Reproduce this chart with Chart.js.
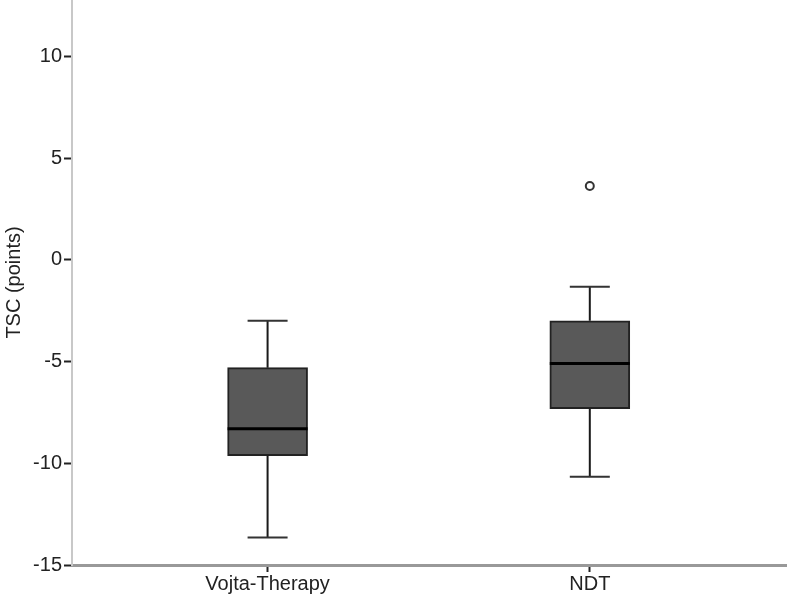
<!DOCTYPE html>
<html>
<head>
<meta charset="utf-8">
<script src="https://cdn.jsdelivr.net/npm/chart.js@4.4.1/dist/chart.umd.min.js"></script>
<style>
  body { margin: 0; background: #fff; }
  canvas { display: block; }
</style>
</head>
<body>
<canvas id="boxChart" width="787" height="600"></canvas>
<script>
// datos (TSC en puntos)
const categories = ['Vojta-Therapy', 'NDT'];
const whiskerLow = [-13.65, -10.66];
const q1 = [-9.63, -7.32];
const median = [-8.3, -5.1];
const q3 = [-5.3, -3.0];
const whiskerHigh = [-3.0, -1.33];
const outliers = [[], [3.63]];
const yTicks = [-15, -10, -5, 0, 5, 10];

// bigotes, topes y medianas usando las escalas del grafico
const boxExtras = {
  id: 'boxExtras',
  afterDatasetsDraw(chart) {
    const ctx = chart.ctx;
    const x = chart.scales.x;
    const y = chart.scales.y;
    const boxes = chart.getDatasetMeta(0).data;
    ctx.save();
    ctx.lineCap = 'butt';
    categories.forEach(function (c, i) {
      const cx = x.getPixelForValue(i + 1);
      const half = boxes[i].width / 2;
      const capHalf = half / 2;
      // bigotes
      ctx.strokeStyle = '#1a1a1a';
      ctx.lineWidth = 2;
      ctx.beginPath();
      ctx.moveTo(cx, y.getPixelForValue(q3[i]));
      ctx.lineTo(cx, y.getPixelForValue(whiskerHigh[i]));
      ctx.moveTo(cx, y.getPixelForValue(q1[i]));
      ctx.lineTo(cx, y.getPixelForValue(whiskerLow[i]));
      ctx.stroke();
      // topes
      ctx.strokeStyle = '#333';
      ctx.beginPath();
      ctx.moveTo(cx - capHalf, y.getPixelForValue(whiskerHigh[i]));
      ctx.lineTo(cx + capHalf, y.getPixelForValue(whiskerHigh[i]));
      ctx.moveTo(cx - capHalf, y.getPixelForValue(whiskerLow[i]));
      ctx.lineTo(cx + capHalf, y.getPixelForValue(whiskerLow[i]));
      ctx.stroke();
      // mediana
      ctx.strokeStyle = '#000';
      ctx.lineWidth = 3;
      ctx.beginPath();
      ctx.moveTo(cx - half, y.getPixelForValue(median[i]));
      ctx.lineTo(cx + half, y.getPixelForValue(median[i]));
      ctx.stroke();
    });
    ctx.restore();
  }
};

const boxData = categories.map(function (c, i) {
  return { x: i + 1, y: [q1[i], q3[i]] };
});
const outlierData = [];
outliers.forEach(function (list, i) {
  list.forEach(function (v) { outlierData.push({ x: i + 1, y: v }); });
});

Chart.defaults.font.family = '"Liberation Sans", Arial, sans-serif';
Chart.defaults.color = '#222';

const myBoxChart = new Chart(document.getElementById('boxChart'), {
  type: 'bar',
  data: {
    datasets: [{
      type: 'bar',
      data: boxData,
      backgroundColor: '#595959',
      borderColor: '#222',
      borderWidth: 2,
      borderSkipped: false,
      barThickness: 80
    }, {
      type: 'scatter',
      data: outlierData,
      pointRadius: 4,
      pointBackgroundColor: '#fff',
      pointBorderColor: '#333',
      pointBorderWidth: 2
    }]
  },
  options: {
    responsive: false,
    animation: false,
    layout: { padding: 0, autoPadding: false },
    plugins: {
      legend: { display: false },
      tooltip: { enabled: false }
    },
    scales: {
      x: {
        type: 'linear',
        offset: false,
        min: 0.393,
        max: 2.612,
        afterBuildTicks: function (scale) {
          scale.ticks = categories.map(function (c, i) { return { value: i + 1 }; });
        },
        afterFit: function (scale) {
          scale.height = 35;
          scale.paddingLeft = 0;
          scale.paddingRight = 0;
        },
        ticks: {
          font: { size: 20 },
          padding: 0,
          maxRotation: 0,
          callback: function (v) { return categories[v - 1]; }
        },
        grid: {
          offset: false,
          drawOnChartArea: false,
          tickLength: 7,
          tickColor: '#222',
          tickWidth: 2
        },
        border: { color: '#999', width: 3 }
      },
      y: {
        min: -15,
        max: 12.77,
        afterBuildTicks: function (scale) {
          scale.ticks = yTicks.map(function (v) { return { value: v }; });
        },
        afterFit: function (scale) {
          scale.width = 72;
          scale.paddingTop = 0;
          scale.paddingBottom = 0;
        },
        ticks: { font: { size: 20 }, padding: 2 },
        title: {
          display: true,
          text: 'TSC (points)',
          font: { size: 20 },
          padding: { top: 2, bottom: 0 }
        },
        grid: {
          drawOnChartArea: false,
          tickLength: 8,
          tickColor: '#222',
          tickWidth: 2
        },
        border: { color: '#c8c8c8', width: 2 }
      }
    }
  },
  plugins: [boxExtras]
});
</script>
</body>
</html>
